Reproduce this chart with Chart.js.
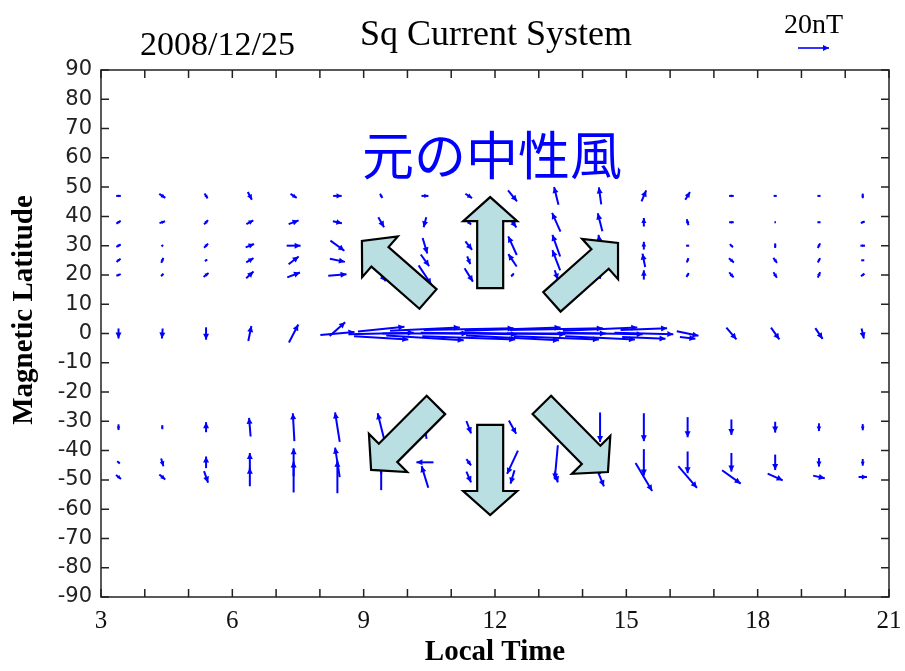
<!DOCTYPE html>
<html>
<head>
<meta charset="utf-8">
<script src="https://cdn.jsdelivr.net/npm/chart.js@4.4.0/dist/chart.umd.min.js"></script>
<style>
  body { margin: 0; background: #fff; }
  #wrap { width: 905px; height: 671px; }
</style>
</head>
<body>
<div id="wrap"><canvas id="sqChart" width="905" height="671"></canvas></div>
<script>
// 観測点の地方時 (LT) と磁気緯度
const localTimes = [3.4, 4.4, 5.4, 6.4, 7.4, 8.4, 9.4, 10.4, 11.4, 12.4, 13.4, 14.4, 15.4, 16.4, 17.4, 18.4, 19.4, 20.4];
const xTicks = [3, 6, 9, 12, 15, 18, 21];
const yTicks = [-90, -80, -70, -60, -50, -40, -30, -20, -10, 0, 10, 20, 30, 40, 50, 60, 70, 80, 90];

// 各緯度のベクトル成分 (nT) : 東向き / 北向き
const lat47E = [3, 3.9, 2, 2.6, 4, 5.5, 1.5, 4.5, 4.3, 5.8, -2.8, -1.5, 3, 3, 3, 2, 2, 0];
const lat47N = [0, -2.6, -3.2, -5, -2.6, 0, -2.8, 0, -2.8, -7, 11.5, 11, 7, 5, 0, 0, 0, -3];
const lat38E = [2.8, 3.6, 2.6, 4.5, 6.4, 5.8, 3.7, -1.7, 3, 5, -5.4, -3, 0, -1, 3, 1, 2, 2.5];
const lat38N = [1.8, 1.2, 2.8, 2.3, 2.4, -1.2, -6.5, -6.5, -3, -6.5, 12, 11.5, 5.5, 4, 0, 0, 0, 1];
const lat30E = [2.8, 1, 2.6, 5.4, 9, 9, 3, 3, 4.3, -5.5, -5, -2, 0, 2, 2, 0, 1.5, 3];
const lat30N = [1.5, 1, 2.6, 2.2, 0, -6.5, -5, -10, -5.4, 12, 14, 14, 5, 0, -2, -3, 3, 0];
const lat25E = [2.6, 1.3, 1.5, 4.7, 6.5, 9.7, 4, 5.4, 2, -5.4, -5, -3, -1.7, 1, 3.2, 2.4, 1.5, 2];
const lat25N = [2, 3.2, 1, 2.8, 5, -2, -6, -7.5, -5, 8, 13, 12, 8.6, 2.8, -2.8, -3.2, 2.8, 0];
const lat20E = [2.8, 1.5, 3.2, 4.7, 8.2, 11.8, 6, 8.2, 5.4, 1.7, 2, 0, 0, 1.5, 2.8, 2.2, 1.5, 2.2];
const lat20N = [1, 1.7, 2.6, 4.3, 3.2, 1, -8, -12.3, -8.6, 2, -6, -5, 6, 2.6, -3.2, -3.6, 3.6, 1.7];
const eqNorthE = [0, 0, 0, 0, 0, 10, 30, 45, 58, 62, 60, 48, 30, 0, 0, 0, 0, 0];
const eqNorthN = [0, 0, 0, 0, 0, 9, 3, 2, 1, 2, 1, 2, 1, 0, 0, 0, 0, 0];
const eqE = [0, -0.5, 0, 2, 6, 22, 42, 55, 62, 68, 64, 55, 38, 14, 6.5, 5.4, 4.7, 1.5];
const eqN = [-6.5, -6.5, -8, 9.7, 11.5, 2, 1, 0, -1, -1, 0, -1, -1, -3, -7.5, -7.5, -7, -6.5];
const eqSouthE = [0, 0, 0, 0, 0, 0, 35, 50, 60, 60, 55, 45, 28, 10, 0, 0, 0, 0];
const eqSouthN = [0, 0, 0, 0, 0, 0, -2, -3, -2, -3, -2, -2, -1, -1, 0, 0, 0, 0];
const latS32E = [0, 0, 0, -1, -1, -3, -4.5, -2, 3, 4.7, 0, 0, 0, 0, 0, 0, 0, 0];
const latS32N = [-3.7, -2.6, 6.5, 12, 18, 19, 18, 15, -8, -8.6, -15, -19, -18, -13, -10, -7, -5, -4];
const latS44E = [1.7, 1.5, 0, 0, 0, -3, 0, -11, 3, -7, -2, 0, 0, 0, 0, 0, 0, 0];
const latS44N = [-1.5, -5, 7.5, 12, 18, 19, 15, 0, -4, -15, -22, -15, -17, -14, -12, -10, -5.5, -4.3];
const latS49E = [3.2, 3.8, 2.6, 0, 0, 0, 0, -4.3, 3, -2.6, 2, 5, 10.7, 12, 12, 9.7, 7.5, 5.4];
const latS49N = [-2.6, -3.2, -7.5, 12, 20, 21, 17, 14, -7, -8.6, -7, -12, -18, -14, -8.6, -4.3, -1.7, 0];

const rows = [
  { lat: 47, e: lat47E, n: lat47N },
  { lat: 38, e: lat38E, n: lat38N },
  { lat: 30, e: lat30E, n: lat30N },
  { lat: 25, e: lat25E, n: lat25N },
  { lat: 20, e: lat20E, n: lat20N },
  { lat: 1.5, e: eqNorthE, n: eqNorthN },
  { lat: 0, e: eqE, n: eqN },
  { lat: -1.5, e: eqSouthE, n: eqSouthN },
  { lat: -32, e: latS32E, n: latS32N },
  { lat: -44, e: latS44E, n: latS44N },
  { lat: -49, e: latS49E, n: latS49N }
];

// 中性風の向き (LT, 緯度): 根元 -> 先端
const windTail = [[11.89, 15.5], [10.47, 11.8], [13.30, 10.8], [10.65, -24.4], [11.89, -31.2], [13.07, -24.4]];
const windTip = [[11.89, 46.6], [8.96, 31.6], [14.81, 30.9], [9.17, -46.6], [11.89, -62], [14.58, -47.3]];

const refNT = 20;          // スケール矢印
const pxPerNT = 31 / 20;   // 20nT = 31px

// 小さな矢印を描く (中心基準)
function drawVector(ctx, cx, cy, e, n) {
  const dx = e * pxPerNT, dy = -n * pxPerNT;
  const len = Math.hypot(dx, dy);
  if (len < 0.5) return;
  const ux = dx / len, uy = dy / len;
  const x0 = cx - dx / 2, y0 = cy - dy / 2;
  const x1 = cx + dx / 2, y1 = cy + dy / 2;
  ctx.beginPath();
  ctx.moveTo(x0, y0);
  ctx.lineTo(x1, y1);
  ctx.stroke();
  const hl = Math.min(6, len * 0.6), hw = hl * 0.5;
  ctx.beginPath();
  ctx.moveTo(x1, y1);
  ctx.lineTo(x1 - ux * hl - uy * hw, y1 - uy * hl + ux * hw);
  ctx.lineTo(x1 - ux * hl + uy * hw, y1 - uy * hl - ux * hw);
  ctx.closePath();
  ctx.fill();
}

const framePlugin = {
  id: 'frame',
  afterDraw(chart) {
    const { ctx, chartArea: a, scales: { x, y } } = chart;
    ctx.save();
    ctx.strokeStyle = '#222';
    ctx.lineWidth = 1.5;
    ctx.strokeRect(a.left, a.top, a.right - a.left, a.bottom - a.top);
    ctx.beginPath();
    for (let h = x.min; h <= x.max; h++) {
      const px = x.getPixelForValue(h);
      ctx.moveTo(px, a.bottom); ctx.lineTo(px, a.bottom - 8);
      ctx.moveTo(px, a.top); ctx.lineTo(px, a.top + 8);
    }
    yTicks.forEach(v => {
      const py = y.getPixelForValue(v);
      ctx.moveTo(a.left, py); ctx.lineTo(a.left + 8, py);
      ctx.moveTo(a.right, py); ctx.lineTo(a.right - 8, py);
    });
    ctx.stroke();
    ctx.restore();
  }
};

const quiverPlugin = {
  id: 'quiver',
  afterDraw(chart) {
    const { ctx, scales: { x, y } } = chart;
    ctx.save();
    ctx.strokeStyle = '#0000ff';
    ctx.fillStyle = '#0000ff';
    ctx.lineWidth = 2;
    rows.forEach(r => {
      const py = y.getPixelForValue(r.lat);
      localTimes.forEach((lt, i) => {
        drawVector(ctx, x.getPixelForValue(lt), py, r.e[i], r.n[i]);
      });
    });
    // 20nT の基準矢印
    ctx.lineWidth = 1.6;
    drawVector(ctx, 813.5, 48, refNT, 0);
    ctx.restore();
  }
};

const windPlugin = {
  id: 'wind',
  afterDraw(chart) {
    const { ctx, scales: { x, y } } = chart;
    const shaft = 13, headW = 27, headL = 24;
    ctx.save();
    ctx.fillStyle = '#b9dfe2';
    ctx.strokeStyle = '#000';
    ctx.lineWidth = 2.2;
    ctx.lineJoin = 'miter';
    windTail.forEach((t, i) => {
      const tx = x.getPixelForValue(t[0]), ty = y.getPixelForValue(t[1]);
      const hx = x.getPixelForValue(windTip[i][0]), hy = y.getPixelForValue(windTip[i][1]);
      const L = Math.hypot(hx - tx, hy - ty);
      const ang = Math.atan2(hy - ty, hx - tx);
      ctx.save();
      ctx.translate(tx, ty);
      ctx.rotate(ang);
      ctx.beginPath();
      ctx.moveTo(0, -shaft);
      ctx.lineTo(L - headL, -shaft);
      ctx.lineTo(L - headL, -headW);
      ctx.lineTo(L, 0);
      ctx.lineTo(L - headL, headW);
      ctx.lineTo(L - headL, shaft);
      ctx.lineTo(0, shaft);
      ctx.closePath();
      ctx.fill();
      ctx.stroke();
      ctx.restore();
    });
    // 元の中性風
    ctx.fillStyle = '#0000ff';
    ctx.font = '52px "Noto Sans CJK JP"';
    ctx.textAlign = 'center';
    ctx.textBaseline = 'middle';
    ctx.fillText('元の中性風', x.getPixelForValue(11.93), y.getPixelForValue(61.0));
    ctx.restore();
  }
};

const textPlugin = {
  id: 'texts',
  afterDraw(chart) {
    const { ctx, chartArea: a } = chart;
    ctx.save();
    ctx.fillStyle = '#000';
    ctx.textBaseline = 'alphabetic';
    ctx.textAlign = 'left';
    ctx.font = '34px "Liberation Serif"';
    ctx.fillText('2008/12/25', 140, 55);
    ctx.font = '36px "Liberation Serif"';
    ctx.fillText('Sq Current System', 360, 45);
    ctx.font = '28px "Liberation Serif"';
    ctx.textAlign = 'center';
    ctx.fillText('20nT', 813.5, 33);
    ctx.font = 'bold 29px "Liberation Serif"';
    ctx.textBaseline = 'middle';
    ctx.fillText('Local Time', (a.left + a.right) / 2, 653);
    ctx.translate(25, 310);
    ctx.rotate(-Math.PI / 2);
    ctx.fillText('Magnetic Latitude', 0, 0);
    ctx.restore();
  }
};

const ctx = document.getElementById('sqChart').getContext('2d');
new Chart(ctx, {
  type: 'scatter',
  data: { datasets: [] },
  options: {
    responsive: false,
    animation: false,
    layout: { padding: { top: 70, right: 16, left: 0, bottom: 0 } },
    plugins: { legend: { display: false }, tooltip: { enabled: false }, title: { display: false } },
    scales: {
      x: {
        type: 'linear', min: 3, max: 21,
        afterBuildTicks: s => { s.ticks = xTicks.map(v => ({ value: v })); },
        afterFit: s => { s.height = 74; s.paddingLeft = 0; s.paddingRight = 0; },
        grid: { display: false, drawTicks: false },
        border: { display: false },
        ticks: { padding: 9, color: '#111', maxRotation: 0, autoSkip: false, font: { family: 'Liberation Serif', size: 25 } }
      },
      y: {
        type: 'linear', min: -90, max: 90,
        afterBuildTicks: s => { s.ticks = yTicks.map(v => ({ value: v })); },
        afterFit: s => { s.width = 101; s.paddingTop = 0; s.paddingBottom = 0; },
        grid: { display: false, drawTicks: false },
        border: { display: false },
        ticks: { padding: 9, color: '#222', autoSkip: false, font: { family: 'DejaVu Sans', size: 21 } }
      }
    }
  },
  plugins: [framePlugin, quiverPlugin, windPlugin, textPlugin]
});
</script>
</body>
</html>
